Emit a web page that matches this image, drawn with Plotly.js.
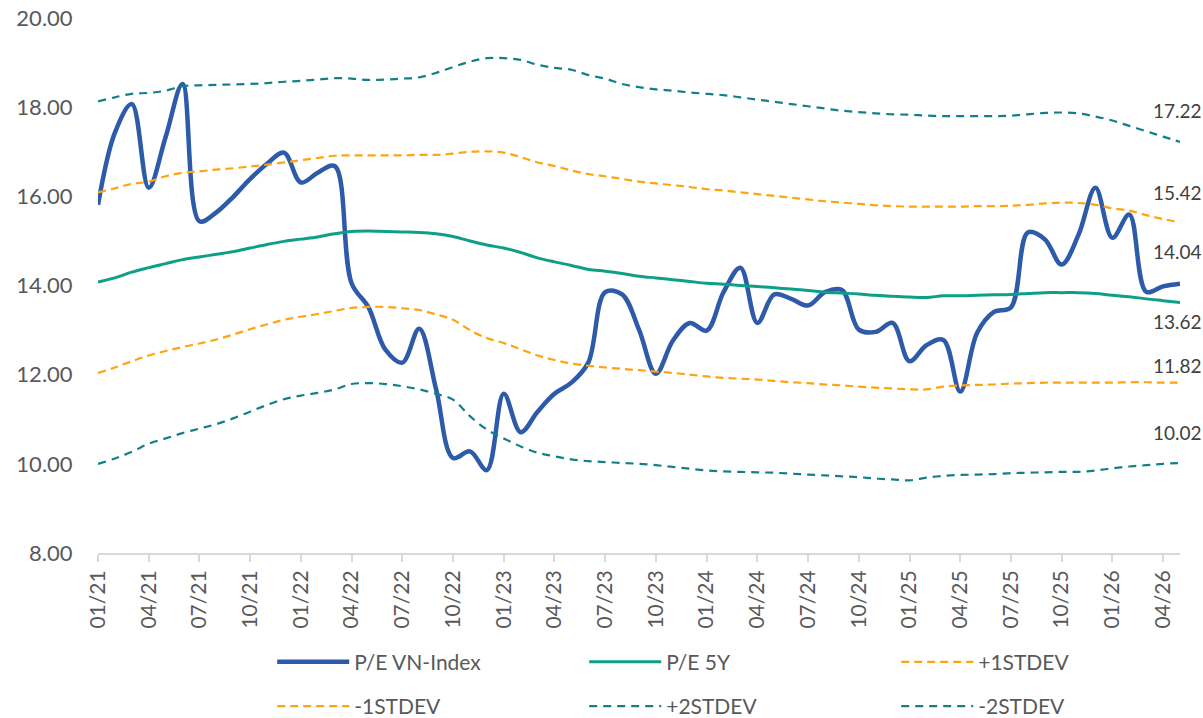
<!DOCTYPE html>
<html>
<head>
<meta charset="utf-8">
<script src="https://cdn.plot.ly/plotly-3.0.1.min.js"></script>
<style>
  html, body { margin: 0; padding: 0; background: #ffffff; }
  #chart { width: 1203px; height: 718px; }
</style>
</head>
<body>
<div id="chart"></div>
<script>
// Monthly categories 01/21 .. 05/26
const months = [
  "01/21","02/21","03/21","04/21","05/21","06/21","07/21","08/21","09/21","10/21","11/21","12/21",
  "01/22","02/22","03/22","04/22","05/22","06/22","07/22","08/22","09/22","10/22","11/22","12/22",
  "01/23","02/23","03/23","04/23","05/23","06/23","07/23","08/23","09/23","10/23","11/23","12/23",
  "01/24","02/24","03/24","04/24","05/24","06/24","07/24","08/24","09/24","10/24","11/24","12/24",
  "01/25","02/25","03/25","04/25","05/25","06/25","07/25","08/25","09/25","10/25","11/25","12/25",
  "01/26","02/26","03/26","04/26","05/26"
];

const tickLabels = ["01/21","04/21","07/21","10/21","01/22","04/22","07/22","10/22","01/23","04/23","07/23","10/23",
  "01/24","04/24","07/24","10/24","01/25","04/25","07/25","10/25","01/26","04/26"];

const yTicks = [8, 10, 12, 14, 16, 18, 20];

const peVNIndex = [
  15.81,17.43,18.07,16.19,17.33,18.52,15.44,15.64,15.99,16.39,16.73,16.98,
  16.31,16.53,16.68,14.05,13.51,12.56,12.27,13.03,11.67,10.13,10.28,9.86,
  11.57,10.71,11.17,11.57,11.82,12.27,13.85,13.80,13.01,12.02,12.76,13.16,
  12.99,13.85,14.40,13.16,13.80,13.70,13.55,13.85,13.90,13.01,12.96,13.16,
  12.30,12.66,12.78,11.62,12.94,13.41,13.51,15.19,15.04,14.47,15.14,16.19,
  15.07,15.59,13.86,13.98,14.04
];

const pe5Y = [
  14.08,14.17,14.30,14.40,14.49,14.58,14.64,14.70,14.76,14.84,14.92,14.99,
  15.04,15.09,15.16,15.21,15.22,15.21,15.20,15.19,15.16,15.10,15.00,14.91,
  14.84,14.74,14.62,14.53,14.45,14.36,14.32,14.27,14.21,14.17,14.13,14.09,
  14.05,14.03,14.00,13.98,13.95,13.92,13.89,13.85,13.83,13.81,13.78,13.76,
  13.74,13.73,13.77,13.77,13.78,13.79,13.80,13.82,13.84,13.84,13.84,13.82,
  13.78,13.75,13.70,13.66,13.62
];

const plus1Std = [
  16.09,16.18,16.28,16.33,16.45,16.53,16.56,16.60,16.63,16.67,16.71,16.76,
  16.81,16.86,16.91,16.92,16.92,16.92,16.92,16.93,16.93,16.96,17.00,17.01,
  16.98,16.88,16.76,16.68,16.58,16.50,16.45,16.39,16.33,16.29,16.25,16.21,
  16.16,16.13,16.09,16.05,16.01,15.97,15.93,15.89,15.86,15.83,15.80,15.78,
  15.77,15.77,15.77,15.77,15.78,15.78,15.79,15.81,15.84,15.86,15.85,15.81,
  15.73,15.68,15.58,15.49,15.42
];

const minus1Std = [
  12.04,12.16,12.30,12.43,12.53,12.62,12.70,12.79,12.90,13.02,13.13,13.23,
  13.30,13.36,13.43,13.50,13.52,13.52,13.49,13.45,13.35,13.23,13.00,12.82,
  12.71,12.57,12.43,12.33,12.25,12.20,12.16,12.13,12.10,12.07,12.04,12.00,
  11.96,11.93,11.91,11.89,11.86,11.83,11.81,11.78,11.76,11.73,11.71,11.69,
  11.67,11.67,11.73,11.76,11.77,11.78,11.80,11.81,11.82,11.82,11.82,11.82,
  11.82,11.83,11.83,11.82,11.82
];

const plus2Std = [
  18.13,18.22,18.30,18.32,18.37,18.47,18.49,18.50,18.51,18.52,18.54,18.57,
  18.59,18.62,18.65,18.64,18.61,18.62,18.64,18.67,18.77,18.90,19.02,19.10,
  19.10,19.06,18.95,18.88,18.84,18.72,18.64,18.52,18.45,18.40,18.37,18.33,
  18.30,18.27,18.22,18.17,18.12,18.07,18.02,17.97,17.92,17.89,17.86,17.84,
  17.83,17.81,17.80,17.80,17.80,17.80,17.81,17.84,17.87,17.88,17.86,17.79,
  17.70,17.58,17.46,17.34,17.22
];

const minus2Std = [
  10.00,10.12,10.27,10.45,10.57,10.69,10.79,10.89,11.02,11.17,11.32,11.45,
  11.53,11.59,11.67,11.79,11.81,11.79,11.74,11.67,11.57,11.44,11.07,10.77,
  10.57,10.39,10.25,10.17,10.10,10.06,10.04,10.02,10.00,9.97,9.93,9.89,
  9.85,9.83,9.82,9.81,9.80,9.78,9.76,9.74,9.72,9.70,9.67,9.65,
  9.63,9.69,9.73,9.75,9.76,9.77,9.79,9.80,9.81,9.82,9.82,9.85,
  9.90,9.94,9.97,10.00,10.02
];

const C_BLUE = '#2D5AA9';
const C_GREEN = '#0E9F87';
const C_ORANGE = '#FFA30F';
const C_TEAL = '#12808A';
const FONT = 'Lato, "Open Sans", sans-serif';

function tr(name, y, color, width, dash, legend) {
  return {
    type: 'scatter', mode: 'lines', name: name, x: months, y: y,
    line: {color: color, width: width, dash: dash, shape: 'spline', smoothing: 1},
    legend: legend, hoverinfo: 'x+y+name'
  };
}

const traces = [
  tr('P/E VN-Index', peVNIndex, C_BLUE, 4.5, 'solid', 'legend'),
  tr('P/E 5Y', pe5Y, C_GREEN, 3, 'solid', 'legend'),
  tr('+1STDEV', plus1Std, C_ORANGE, 2.2, '8px,5px', 'legend'),
  tr('-1STDEV', minus1Std, C_ORANGE, 2.2, '8px,5px', 'legend2'),
  tr('+2STDEV', plus2Std, C_TEAL, 2.2, '8px,6px', 'legend2'),
  tr('-2STDEV', minus2Std, C_TEAL, 2.2, '8px,6px', 'legend2')
];

const last = months.length - 1;
const labelSeries = [
  {arr: plus2Std, shift: 31},
  {arr: plus1Std, shift: 30},
  {arr: peVNIndex, shift: 32},
  {arr: pe5Y, shift: -19},
  {arr: minus1Std, shift: 17},
  {arr: minus2Std, shift: 30}
];
const annotations = labelSeries.map(s => ({
  xref: 'x', yref: 'y', x: last, y: s.arr[last],
  text: s.arr[last].toFixed(2), showarrow: false,
  xanchor: 'center', yanchor: 'middle', xshift: -3, yshift: s.shift,
  font: {family: FONT, size: 19, color: '#404040'}
}));

const legendBase = {
  orientation: 'h', xref: 'paper', yref: 'paper', xanchor: 'left', yanchor: 'middle',
  x: 0.161, entrywidth: 225, entrywidthmode: 'pixels', itemwidth: 72,
  font: {family: FONT, size: 21, color: '#595959'},
  bgcolor: 'rgba(0,0,0,0)', borderwidth: 0, traceorder: 'normal'
};

const layout = {
  width: 1203, height: 718,
  margin: {l: 98, r: 23, t: 18, b: 165, pad: 0, autoexpand: false},
  paper_bgcolor: '#ffffff', plot_bgcolor: '#ffffff',
  font: {family: FONT, color: '#595959'},
  showlegend: true,
  legend: Object.assign({}, legendBase, {y: -0.204}),
  legend2: Object.assign({}, legendBase, {y: -0.287}),
  xaxis: {
    type: 'category', range: [0, last], tickmode: 'array', tickvals: tickLabels, ticktext: tickLabels,
    tickangle: -90, ticks: 'outside', ticklen: 7, tickwidth: 2, tickcolor: '#D9D9D9',
    showline: true, linecolor: '#D9D9D9', linewidth: 2, showgrid: false, zeroline: false,
    tickfont: {family: FONT, size: 21, color: '#595959'}, fixedrange: true, automargin: false
  },
  yaxis: {
    range: [8, 20], tickmode: 'array', tickvals: yTicks, tickformat: '.2f',
    ticks: 'outside', ticklen: 20, tickcolor: 'rgba(0,0,0,0)',
    showline: false, showgrid: false, zeroline: false,
    tickfont: {family: FONT, size: 22, color: '#595959'}, fixedrange: true, automargin: false
  },
  annotations: annotations
};

Plotly.newPlot('chart', traces, layout, {displayModeBar: false, staticPlot: true});
</script>
</body>
</html>
